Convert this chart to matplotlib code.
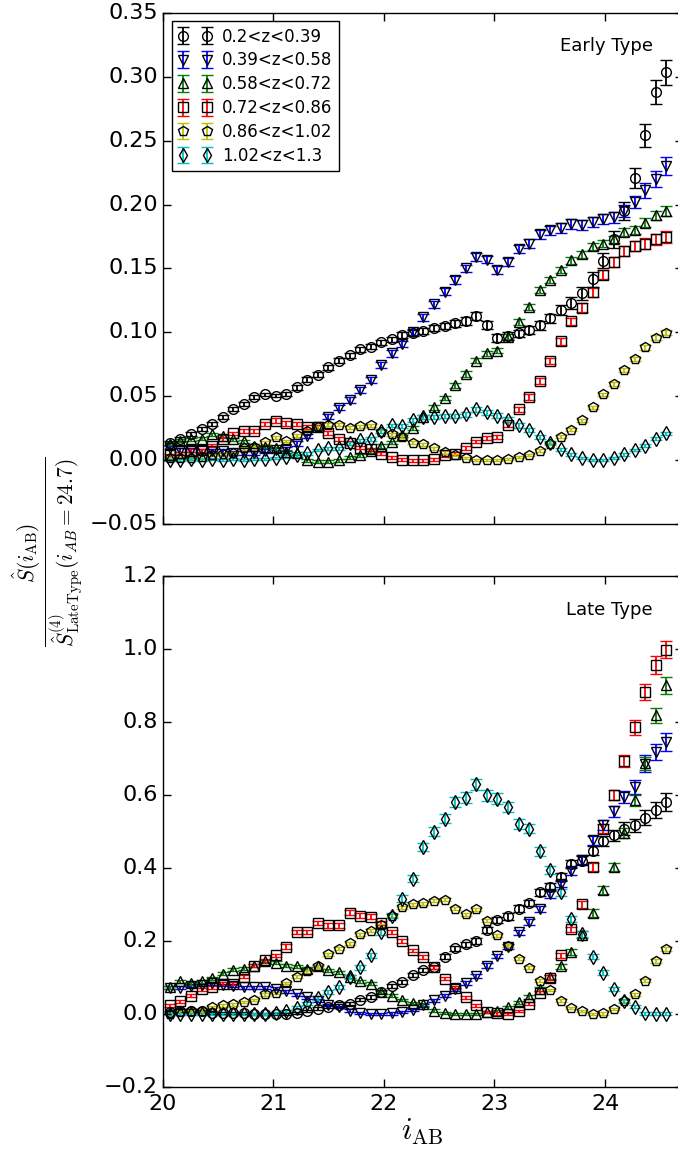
import numpy as np
import matplotlib
matplotlib.use("Agg")
import matplotlib.pyplot as plt

plt.style.use("classic")
plt.rcParams.update({
    "figure.facecolor": "white",
    "savefig.facecolor": "white",
    "mathtext.fontset": "cm",
    "font.family": ["DejaVu Sans"],
})

# magnitude bin centres
i_AB = np.linspace(20.065, 24.555, 48)

z_labels = ["0.2<z<0.39", "0.39<z<0.58", "0.58<z<0.72",
            "0.72<z<0.86", "0.86<z<1.02", "1.02<z<1.3"]
colors = ["k", "b", "g", "r", "y", "c"]
markers = ["o", "v", "^", "s", "p", "d"]

# ---- Early type, normalised S(i_AB) ----
early_z1 = [0.0133, 0.0164, 0.0205, 0.0244, 0.0284, 0.034, 0.040, 0.044, 0.0497, 0.0515,
            0.0507, 0.052, 0.057, 0.063, 0.067, 0.0726, 0.078, 0.082, 0.0867, 0.089,
            0.0924, 0.0945, 0.098, 0.0997, 0.101, 0.1036, 0.105, 0.107, 0.109, 0.1127,
            0.106, 0.0958, 0.097, 0.0992, 0.1018, 0.1057, 0.111, 0.1174, 0.123, 0.1305,
            0.1414, 0.156, 0.1727, 0.195, 0.2208, 0.254, 0.288, 0.3036]
early_z2 = [0.010, 0.008, 0.008, 0.007, 0.007, 0.007, 0.006, 0.006, 0.006, 0.007,
            0.008, 0.009, 0.013, 0.019, 0.026, 0.034, 0.041, 0.047, 0.055, 0.063,
            0.0745, 0.0836, 0.091, 0.1005, 0.1117, 0.122, 0.132, 0.1409, 0.150, 0.159,
            0.157, 0.149, 0.155, 0.165, 0.1695, 0.1766, 0.180, 0.1817, 0.185, 0.184,
            0.1864, 0.189, 0.190, 0.1948, 0.202, 0.211, 0.220, 0.230]
early_z3 = [0.013, 0.0153, 0.0164, 0.017, 0.0205, 0.019, 0.0164, 0.015, 0.0112, 0.0106,
            0.0094, 0.0067, 0.0055, 0.0, -0.001, -0.001, 0.0, 0.0025, 0.004, 0.0075,
            0.011, 0.014, 0.0195, 0.025, 0.034, 0.0415, 0.0487, 0.0588, 0.0675, 0.078,
            0.0836, 0.0856, 0.0968, 0.108, 0.120, 0.133, 0.141, 0.1487, 0.1565, 0.161,
            0.1674, 0.1695, 0.1727, 0.1786, 0.180, 0.1857, 0.1916, 0.195]
early_z4 = [0.004, 0.0055, 0.0075, 0.008, 0.0114, 0.0164, 0.021, 0.0229, 0.0231, 0.0284,
            0.031, 0.029, 0.0284, 0.026, 0.026, 0.0216, 0.017, 0.0138, 0.0098, 0.0086,
            0.0052, 0.0023, 0.0005, 0.0, 0.0, 0.001, 0.004, 0.005, 0.0094, 0.0147,
            0.0175, 0.0185, 0.028, 0.040, 0.0497, 0.062, 0.0776, 0.093, 0.1086, 0.1195,
            0.1315, 0.145, 0.155, 0.1638, 0.1674, 0.1695, 0.1727, 0.1747]
early_z5 = [0.0015, 0.0015, 0.0015, 0.003, 0.004, 0.005, 0.0055, 0.0094, 0.0106, 0.014,
            0.018, 0.0153, 0.0195, 0.0231, 0.026, 0.028, 0.028, 0.0255, 0.0268, 0.0276,
            0.0224, 0.0204, 0.0185, 0.0139, 0.0126, 0.0094, 0.0063, 0.0045, 0.0018, 0.0005,
            0.0005, 0.0003, 0.0008, 0.0023, 0.004, 0.0075, 0.0127, 0.0185, 0.024, 0.0315,
            0.0414, 0.0515, 0.0596, 0.0705, 0.079, 0.0883, 0.096, 0.0997]
early_z6 = [0.0, 0.0, 0.001, 0.0, 0.001, 0.0, 0.001, 0.0, 0.001, 0.001,
            0.002, 0.003, 0.004, 0.0055, 0.008, 0.0094, 0.0094, 0.0133, 0.0156, 0.0167,
            0.023, 0.0273, 0.027, 0.0313, 0.0338, 0.0338, 0.0346, 0.0346, 0.036, 0.0398,
            0.0375, 0.035, 0.0318, 0.0273, 0.0237, 0.0185, 0.0138, 0.0086, 0.0047, 0.002,
            0.0, 0.0, 0.002, 0.0047, 0.008, 0.0114, 0.017, 0.021]

early_err_z1 = [0.0015, 0.0015, 0.0015, 0.0015, 0.0015, 0.0015, 0.0015, 0.0015, 0.0015, 0.0015,
                0.0015, 0.0018, 0.0018, 0.0018, 0.0018, 0.002, 0.002, 0.002, 0.002, 0.002,
                0.002, 0.002, 0.0022, 0.0022, 0.0022, 0.0025, 0.0025, 0.0025, 0.0028, 0.003,
                0.003, 0.003, 0.003, 0.003, 0.0032, 0.0034, 0.0036, 0.004, 0.0045, 0.005,
                0.0058, 0.006, 0.0068, 0.0068, 0.008, 0.009, 0.0094, 0.0098]
early_err_z2 = [0.0015, 0.0015, 0.0015, 0.0015, 0.0015, 0.0015, 0.0015, 0.0015, 0.0015, 0.0015,
                0.0015, 0.0015, 0.0018, 0.0018, 0.002, 0.002, 0.002, 0.0022, 0.0022, 0.0022,
                0.0025, 0.0025, 0.0025, 0.0025, 0.0028, 0.0028, 0.003, 0.003, 0.003, 0.003,
                0.003, 0.003, 0.0032, 0.0032, 0.0034, 0.0034, 0.0036, 0.0036, 0.0038, 0.0038,
                0.004, 0.004, 0.0042, 0.0045, 0.005, 0.0055, 0.006, 0.0068]
early_err_z3 = [0.0012, 0.0012, 0.0012, 0.0012, 0.0012, 0.0012, 0.0012, 0.0012, 0.0012, 0.0012,
                0.0012, 0.0012, 0.0012, 0.0012, 0.0012, 0.0012, 0.0012, 0.0012, 0.0012, 0.0015,
                0.0015, 0.0015, 0.0015, 0.0015, 0.0018, 0.0018, 0.0018, 0.002, 0.002, 0.002,
                0.002, 0.002, 0.0022, 0.0022, 0.0024, 0.0024, 0.0025, 0.0025, 0.0026, 0.0026,
                0.0028, 0.0028, 0.003, 0.003, 0.0032, 0.0034, 0.0036, 0.0038]
early_err_z4 = [0.0012, 0.0012, 0.0012, 0.0012, 0.0012, 0.0015, 0.0015, 0.0015, 0.0015, 0.0018,
                0.0018, 0.0018, 0.0018, 0.0018, 0.0018, 0.0015, 0.0015, 0.0015, 0.0012, 0.0012,
                0.0012, 0.0012, 0.0012, 0.0012, 0.0012, 0.0012, 0.0012, 0.0012, 0.0015, 0.0015,
                0.0015, 0.0015, 0.0018, 0.002, 0.0022, 0.0024, 0.0026, 0.0028, 0.003, 0.0032,
                0.0034, 0.0036, 0.0038, 0.004, 0.004, 0.0042, 0.0044, 0.0046]
early_err_z5 = [0.0008, 0.0008, 0.0008, 0.0008, 0.0008, 0.0008, 0.0008, 0.001, 0.001, 0.001,
                0.001, 0.001, 0.001, 0.001, 0.0012, 0.0012, 0.0012, 0.0012, 0.0012, 0.0012,
                0.0012, 0.0012, 0.0012, 0.001, 0.001, 0.001, 0.001, 0.0008, 0.0008, 0.0008,
                0.0008, 0.0008, 0.0008, 0.0008, 0.0008, 0.001, 0.001, 0.001, 0.0012, 0.0012,
                0.0014, 0.0014, 0.0015, 0.0016, 0.0017, 0.0018, 0.0019, 0.002]
early_err_z6 = [0.0008, 0.0008, 0.0008, 0.0008, 0.0008, 0.0008, 0.0008, 0.0008, 0.0008, 0.0008,
                0.0008, 0.0008, 0.001, 0.001, 0.001, 0.001, 0.001, 0.0012, 0.0012, 0.0012,
                0.0015, 0.0015, 0.0015, 0.0016, 0.0017, 0.0017, 0.0018, 0.0018, 0.0018, 0.002,
                0.002, 0.0018, 0.0018, 0.0017, 0.0016, 0.0015, 0.0013, 0.0012, 0.001, 0.001,
                0.0008, 0.0008, 0.0008, 0.001, 0.001, 0.0012, 0.0013, 0.0015]

# ---- Late type, normalised S(i_AB) ----
late_z1 = [0.0055, 0.010, 0.010, 0.008, 0.003, 0.003, 0.003, 0.003, 0.001, 0.001,
           0.001, 0.001, 0.003, 0.008, 0.015, 0.020, 0.025, 0.029, 0.040, 0.0475,
           0.060, 0.078, 0.088, 0.107, 0.121, 0.130, 0.157, 0.180, 0.191, 0.201,
           0.230, 0.257, 0.268, 0.289, 0.304, 0.334, 0.349, 0.375, 0.410, 0.420,
           0.448, 0.474, 0.490, 0.508, 0.517, 0.538, 0.558, 0.581]
late_z2 = [0.072, 0.072, 0.078, 0.080, 0.085, 0.080, 0.078, 0.074, 0.074, 0.074,
           0.070, 0.063, 0.054, 0.0466, 0.0375, 0.025, 0.019, 0.010, 0.003, 0.001,
           0.0, 0.002, 0.005, 0.012, 0.024, 0.038, 0.050, 0.068, 0.085, 0.105,
           0.133, 0.160, 0.185, 0.224, 0.252, 0.287, 0.328, 0.357, 0.392, 0.423,
           0.476, 0.517, 0.556, 0.595, 0.622, 0.686, 0.718, 0.745]
late_z3 = [0.074, 0.0896, 0.085, 0.0896, 0.0986, 0.111, 0.1216, 0.124, 0.133, 0.145,
           0.141, 0.133, 0.131, 0.124, 0.131, 0.120, 0.115, 0.103, 0.0905, 0.083,
           0.060, 0.051, 0.039, 0.030, 0.0266, 0.010, 0.003, 0.0, 0.0, 0.001,
           0.0055, 0.008, 0.019, 0.033, 0.0466, 0.0695, 0.101, 0.131, 0.170, 0.218,
           0.277, 0.340, 0.403, 0.496, 0.585, 0.687, 0.818, 0.900]
late_z4 = [0.025, 0.0357, 0.051, 0.0677, 0.074, 0.083, 0.083, 0.103, 0.133, 0.147,
           0.161, 0.185, 0.225, 0.225, 0.249, 0.243, 0.243, 0.278, 0.270, 0.267,
           0.249, 0.225, 0.201, 0.1745, 0.156, 0.128, 0.097, 0.072, 0.046, 0.024,
           0.007, 0.002, 0.0, 0.008, 0.0285, 0.059, 0.100, 0.161, 0.232, 0.301,
           0.404, 0.508, 0.599, 0.693, 0.785, 0.882, 0.955, 0.998]
late_z5 = [0.001, 0.0055, 0.008, 0.010, 0.019, 0.024, 0.0266, 0.033, 0.039, 0.054,
           0.0576, 0.085, 0.103, 0.118, 0.131, 0.1636, 0.179, 0.194, 0.219, 0.229,
           0.243, 0.270, 0.293, 0.301, 0.304, 0.311, 0.313, 0.289, 0.274, 0.287,
           0.256, 0.216, 0.187, 0.152, 0.127, 0.092, 0.067, 0.0375, 0.016, 0.008,
           0.0, 0.002, 0.015, 0.037, 0.055, 0.091, 0.145, 0.179]
late_z6 = [0.0, 0.0, 0.0, 0.0, 0.0, 0.0, 0.0, 0.0, 0.0, 0.0,
           0.003, 0.008, 0.018, 0.030, 0.045, 0.060, 0.074, 0.101, 0.128, 0.161,
           0.225, 0.270, 0.316, 0.371, 0.458, 0.499, 0.535, 0.580, 0.593, 0.629,
           0.599, 0.590, 0.567, 0.520, 0.508, 0.446, 0.394, 0.334, 0.261, 0.220,
           0.157, 0.114, 0.0695, 0.036, 0.020, 0.003, 0.001, 0.001]

late_err_z1 = [0.003, 0.003, 0.003, 0.003, 0.003, 0.003, 0.003, 0.003, 0.003, 0.003,
               0.003, 0.003, 0.003, 0.003, 0.004, 0.004, 0.004, 0.004, 0.004, 0.005,
               0.005, 0.005, 0.005, 0.006, 0.006, 0.006, 0.007, 0.007, 0.007, 0.008,
               0.008, 0.008, 0.009, 0.009, 0.009, 0.010, 0.010, 0.011, 0.011, 0.012,
               0.012, 0.014, 0.015, 0.017, 0.018, 0.020, 0.022, 0.025]
late_err_z2 = [0.004, 0.004, 0.004, 0.004, 0.004, 0.004, 0.004, 0.004, 0.004, 0.004,
               0.004, 0.004, 0.004, 0.004, 0.004, 0.003, 0.003, 0.003, 0.003, 0.003,
               0.003, 0.003, 0.003, 0.003, 0.004, 0.004, 0.004, 0.005, 0.005, 0.005,
               0.006, 0.006, 0.007, 0.007, 0.008, 0.008, 0.009, 0.010, 0.011, 0.012,
               0.013, 0.014, 0.015, 0.017, 0.020, 0.022, 0.022, 0.024]
late_err_z3 = [0.004, 0.004, 0.004, 0.004, 0.004, 0.004, 0.004, 0.004, 0.004, 0.004,
               0.004, 0.004, 0.004, 0.004, 0.004, 0.004, 0.004, 0.004, 0.004, 0.004,
               0.003, 0.003, 0.003, 0.003, 0.003, 0.003, 0.003, 0.003, 0.003, 0.003,
               0.003, 0.003, 0.004, 0.004, 0.005, 0.005, 0.006, 0.007, 0.008, 0.009,
               0.010, 0.011, 0.012, 0.014, 0.016, 0.018, 0.021, 0.023]
late_err_z4 = [0.004, 0.004, 0.004, 0.004, 0.004, 0.004, 0.004, 0.005, 0.005, 0.005,
               0.005, 0.006, 0.006, 0.006, 0.006, 0.006, 0.006, 0.006, 0.006, 0.006,
               0.006, 0.006, 0.005, 0.005, 0.005, 0.005, 0.004, 0.004, 0.004, 0.004,
               0.003, 0.003, 0.003, 0.003, 0.004, 0.005, 0.006, 0.007, 0.008, 0.010,
               0.011, 0.012, 0.014, 0.016, 0.020, 0.022, 0.024, 0.024]
late_err_z5 = [0.003, 0.003, 0.003, 0.003, 0.003, 0.003, 0.003, 0.003, 0.003, 0.003,
               0.003, 0.003, 0.003, 0.004, 0.004, 0.004, 0.004, 0.004, 0.004, 0.004,
               0.004, 0.004, 0.004, 0.004, 0.004, 0.004, 0.004, 0.004, 0.004, 0.004,
               0.004, 0.004, 0.004, 0.004, 0.004, 0.003, 0.003, 0.003, 0.003, 0.003,
               0.003, 0.003, 0.003, 0.003, 0.004, 0.004, 0.005, 0.006]
late_err_z6 = [0.003, 0.003, 0.003, 0.003, 0.003, 0.003, 0.003, 0.003, 0.003, 0.003,
               0.003, 0.003, 0.004, 0.004, 0.005, 0.005, 0.006, 0.006, 0.007, 0.007,
               0.008, 0.008, 0.009, 0.010, 0.011, 0.012, 0.013, 0.014, 0.014, 0.015,
               0.015, 0.015, 0.014, 0.013, 0.013, 0.012, 0.011, 0.010, 0.009, 0.008,
               0.007, 0.006, 0.005, 0.005, 0.004, 0.004, 0.004, 0.004]

early = [early_z1, early_z2, early_z3, early_z4, early_z5, early_z6]
early_err = [early_err_z1, early_err_z2, early_err_z3, early_err_z4, early_err_z5, early_err_z6]
late = [late_z1, late_z2, late_z3, late_z4, late_z5, late_z6]
late_err = [late_err_z1, late_err_z2, late_err_z3, late_err_z4, late_err_z5, late_err_z6]

W, H = 678, 1154
fig = plt.figure(figsize=(W / 100, H / 100), dpi=100)
left, right = 162.7 / W, 682.5 / W
ax_top = fig.add_axes([left, 1 - 524.3 / H, right - left, (524.3 - 12.7) / H])
ax_bot = fig.add_axes([left, 1 - 1087.3 / H, right - left, (1087.3 - 575.7) / H])


def draw(ax, values, errors, with_labels):
    for vals, errs, col, mk, lab in zip(values, errors, colors, markers, z_labels):
        ax.errorbar(i_AB, vals, yerr=errs, fmt=mk, mfc="none", mec="k", mew=1.0,
                    ms=7, ecolor=col, elinewidth=1.3, capsize=4, capthick=1.3,
                    label=lab if with_labels else None)


draw(ax_top, early, early_err, True)
draw(ax_bot, late, late_err, False)

for ax in (ax_top, ax_bot):
    ax.set_xlim(20, 24.7)
    ax.set_xticks([20, 21, 22, 23, 24])
    ax.tick_params(direction="in", length=5.6, width=1, labelsize=16,
                   top=True, right=True)
    ax.tick_params(axis="y", pad=3.5)
    ax.tick_params(axis="x", pad=5)
    ax.minorticks_off()

ax_top.set_ylim(-0.05, 0.35)
ax_top.set_yticks(np.arange(-0.05, 0.351, 0.05))
ax_top.tick_params(labelbottom=False)
ax_bot.set_ylim(-0.2, 1.2)
ax_bot.set_yticks(np.arange(-0.2, 1.21, 0.2))

ax_top.text(0.943, 0.935, "Early Type", transform=ax_top.transAxes,
            ha="right", va="center", fontsize=13)
ax_bot.text(0.943, 0.932, "Late Type", transform=ax_bot.transAxes,
            ha="right", va="center", fontsize=13)

ax_top.legend(loc="upper left", bbox_to_anchor=(0.0173, 0.984), borderaxespad=0,
              numpoints=2, fontsize=12, fancybox=False, labelspacing=0.35,
              handletextpad=0.6, borderpad=0.4)

ax_bot.set_xlabel(r"$i_{\rm AB}$", fontsize=22, labelpad=2)
fig.text(0.070, 0.522,
         r"$\frac{\hat{S}(i_{\rm AB})}{\hat{S}^{(4)}_{\rm LateType}(i_{AB}=24.7)}$",
         rotation=90, ha="center", va="center", fontsize=22)

fig.savefig("out.png", dpi=100)
